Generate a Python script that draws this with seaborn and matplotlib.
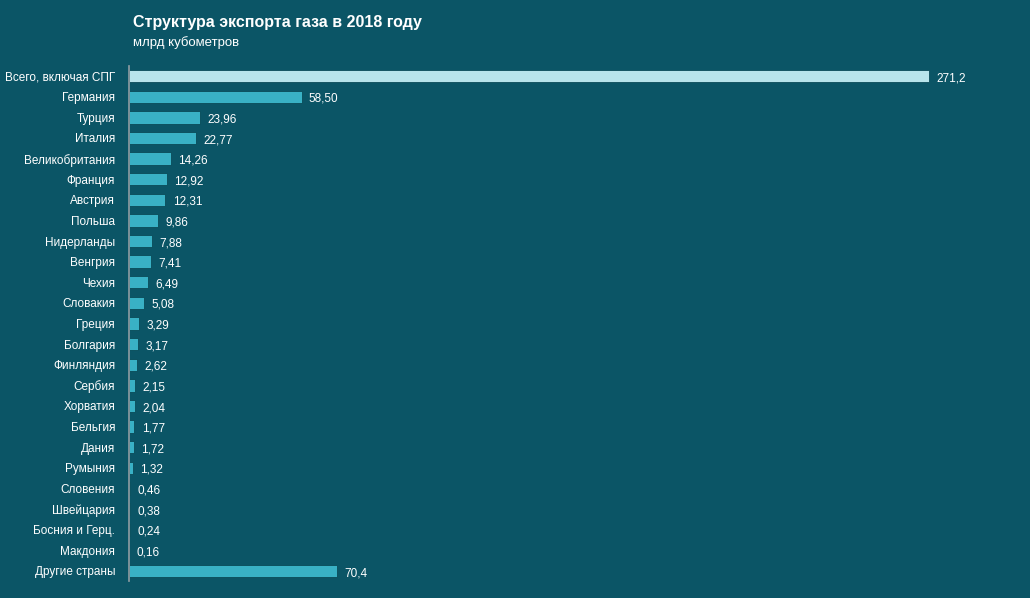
import matplotlib
matplotlib.use("Agg")
import matplotlib.pyplot as plt
import seaborn as sns
import pandas as pd

countries = ["Всего, включая СПГ","Германия","Турция","Италия","Великобритания","Франция","Австрия",
             "Польша","Нидерланды","Венгрия","Чехия","Словакия","Греция","Болгария","Финляндия",
             "Сербия","Хорватия","Бельгия","Дания","Румыния","Словения","Швейцария","Босния и Герц.",
             "Макдония","Другие страны"]
values = [271.2,58.50,23.96,22.77,14.26,12.92,12.31,9.86,7.88,7.41,6.49,5.08,3.29,3.17,2.62,
          2.15,2.04,1.77,1.72,1.32,0.46,0.38,0.24,0.16,70.4]
labels = ["271,2","58,50","23,96","22,77","14,26","12,92","12,31","9,86","7,88","7,41","6,49","5,08",
          "3,29","3,17","2,62","2,15","2,04","1,77","1,72","1,32","0,46","0,38","0,24","0,16","70,4"]

sns.set_theme(style="white")
plt.rcParams['font.family'] = ['Liberation Sans', 'DejaVu Sans']
bg = "#0b5566"
fig = plt.figure(figsize=(10.30, 5.98), dpi=100, facecolor=bg)
ax = fig.add_axes([129/1030, 0.028, 891/1030, 0.862])
ax.set_facecolor(bg)
df = pd.DataFrame({"c": countries, "v": values})
pal = ["#b0eaf3"] + ["#22c2dc"] * (len(countries) - 1)
sns.barplot(data=df, x="v", y="c", hue="c", palette=pal, legend=False, width=0.6, ax=ax,
            edgecolor="#0a4a58", linewidth=0.6)
ax.set_xlim(0, 891 * 271.2 / 800)
for i, (v, l) in enumerate(zip(values, labels)):
    ax.text(v + 2.5, i + 0.1, l, va="center", ha="left", color="white", fontsize=8.5)
ax.set_xlabel(""); ax.set_ylabel("")
ax.set_xticks([])
for s in ["top", "right", "bottom"]:
    ax.spines[s].set_visible(False)
ax.spines["left"].set_color("#8a9aa0")
ax.tick_params(axis="y", colors="white", labelsize=8.5, length=0, pad=10)
ax.set_yticks([i for i in range(len(countries))])
ax.set_yticks([i - 0.5 for i in range(len(countries) + 1)], minor=True)
ax.tick_params(axis="y", which="minor", length=4, color="#8a9aa0", direction="out")
for t in ax.get_yticklabels():
    t.set_color("white")
fig.text(133/1030, 1 - 22/598, "Структура экспорта газа в 2018 году", color="white",
         fontsize=11.5, fontweight="bold", va="center")
fig.text(133/1030, 1 - 43/598, "млрд кубометров", color="white", fontsize=9.5, va="center")
fig.savefig("out.png", dpi=100, facecolor=bg)
